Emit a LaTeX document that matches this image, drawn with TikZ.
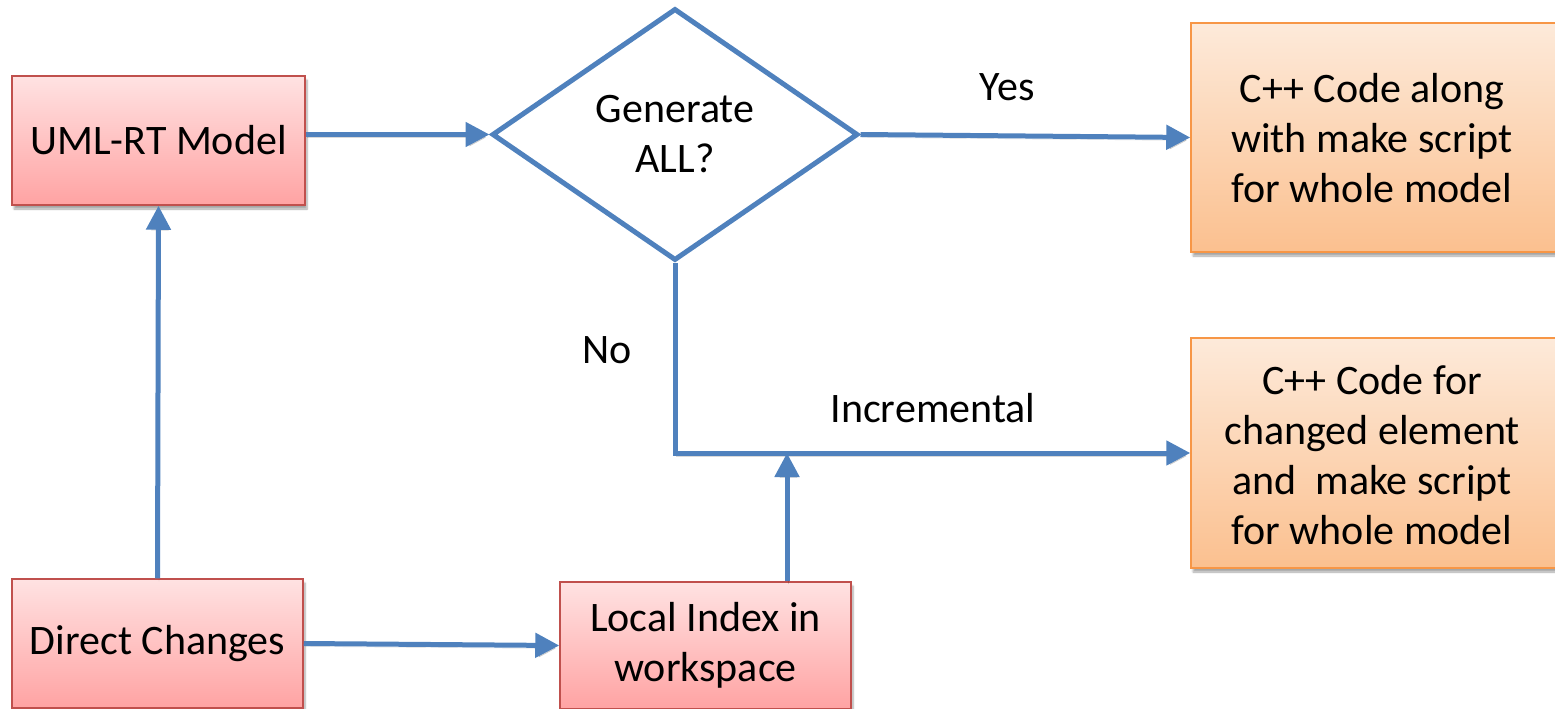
\documentclass[tikz,border=0pt]{standalone}
\usepackage{fontspec}
\setmainfont{Carlito}
\usetikzlibrary{arrows.meta,shapes.geometric,shadows.blur}
\definecolor{flowblue}{HTML}{4F81BD}
\definecolor{redline}{HTML}{C0504D}
\definecolor{redtop}{HTML}{FFE2E2}
\definecolor{redbot}{HTML}{FFA3A3}
\definecolor{orline}{HTML}{F79646}
\definecolor{ortop}{HTML}{FDEADA}
\definecolor{orbot}{HTML}{FBC08F}
\tikzset{
  txt/.style={font=\fontsize{42}{50}\selectfont, align=center},
  redbox/.style={txt, rectangle, draw=redline, line width=1.5pt,
    top color=redtop, bottom color=redbot, inner sep=0pt,
    blur shadow={shadow xshift=2pt, shadow yshift=-4pt, shadow blur steps=6, shadow opacity=35}},
  orbox/.style={txt, rectangle, draw=orline, line width=1.5pt,
    top color=ortop, bottom color=orbot, inner sep=0pt,
    blur shadow={shadow xshift=2pt, shadow yshift=-4pt, shadow blur steps=6, shadow opacity=35}},
  decision/.style={txt, diamond, draw=flowblue, line width=5pt, fill=white, inner sep=0pt},
  flow/.style={draw=flowblue, line width=5pt,
    preaction={draw=black, opacity=0.15, transform canvas={shift={(1.5pt,-3pt)}}}},
  arr/.style={flow, -{Triangle[length=24pt,width=24pt]}},
  lbl/.style={txt}
}
\begin{document}
\begin{tikzpicture}[x=1pt,y=-1pt]
\useasboundingbox (0,0) rectangle (1555,709);
\node[redbox, minimum width=293pt, minimum height=129pt] (uml) at (158.5,140.5) {UML-RT Model};
\node[redbox, minimum width=291pt, minimum height=129pt] (dc) at (157.5,643.5) {Direct Changes};
\node[redbox, minimum width=291pt, minimum height=127pt] (loc) at (705.5,645.5) {Local Index in\\workspace};
\node[decision, minimum width=366pt, minimum height=252pt] (dec) at (675,134.5) {Generate\\ALL?};
\node[orbox, minimum width=372pt, minimum height=229pt] (out1) at (1377,137.5) {};
\node[txt] (out1t) at (1372,138) {C++ Code along\\with make script\\for whole model};
\node[orbox, minimum width=372pt, minimum height=230pt] (out2) at (1377,453) {};
\node[txt] (out2t) at (1372,455) {C++ Code for\\changed element\\and~~make script\\for whole model};
\node[lbl] (yes) at (1007,87) {Yes};
\node[lbl] (no) at (607,350) {No};
\node[lbl] (inc) at (933,408) {Incremental};
\coordinate (join) at (787,453);
\draw[arr] (uml.east |- dec.west) -- (dec.west);
\draw[arr] (dec.east) -- (out1.west);
\draw[arr] (dec.south) |- (out2.west);
\draw[arr] (join |- loc.north) -- (join);
\draw[arr] (dc.east) -- (loc.west);
\draw[arr] (dc.north) -- (uml.south);
\end{tikzpicture}
\end{document}
